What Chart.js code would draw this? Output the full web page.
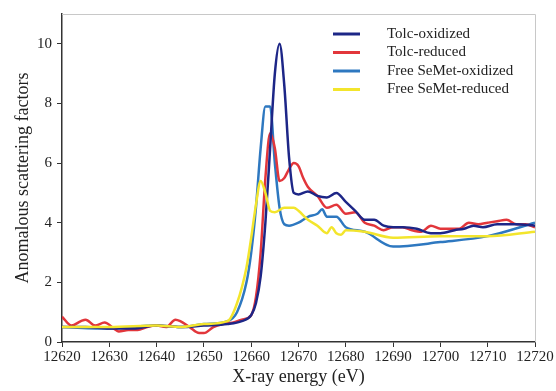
<!DOCTYPE html>
<html>
<head>
<meta charset="utf-8">
<script src="https://cdn.jsdelivr.net/npm/chart.js@4/dist/chart.umd.min.js"></script>
<style>
  body { margin: 0; background: #fff; }
  #wrap { width: 556px; height: 391px; }
</style>
</head>
<body>
<div id="wrap"><canvas id="xasChart"></canvas></div>
<script>
// energies (eV) and anomalous scattering factors
const toleOxE = [12620, 12625, 12630, 12635, 12640, 12645, 12650, 12655, 12658, 12660, 12661, 12662, 12663, 12664, 12665, 12666, 12667, 12668, 12669, 12670, 12672, 12674, 12676, 12678, 12680, 12682, 12684, 12686, 12688, 12690, 12692, 12695, 12698, 12700, 12703, 12705, 12707, 12709, 12712, 12716, 12720];
const toleOxY = [0.5, 0.5, 0.45, 0.45, 0.55, 0.5, 0.55, 0.6, 0.7, 0.9, 1.3, 2.2, 4.0, 6.5, 9.0, 10.0, 8.6, 6.2, 5.0, 4.95, 5.05, 4.9, 4.85, 5.0, 4.7, 4.4, 4.1, 4.1, 3.9, 3.85, 3.85, 3.8, 3.65, 3.65, 3.75, 3.8, 3.9, 3.85, 3.95, 3.95, 3.9];

const toleRedE = [12620, 12622, 12624, 12625, 12627, 12629, 12631, 12632, 12634, 12636, 12638, 12640, 12642, 12644, 12645, 12647, 12649, 12650, 12652, 12654, 12656, 12658, 12660, 12661, 12662, 12663, 12664, 12665, 12666, 12667, 12668, 12669, 12670, 12671, 12672, 12674, 12676, 12678, 12680, 12682, 12684, 12686, 12688, 12690, 12692, 12694, 12696, 12698, 12700, 12702, 12704, 12706, 12708, 12710, 12712, 12714, 12716, 12718, 12720];
const toleRedY = [0.85, 0.55, 0.7, 0.75, 0.55, 0.65, 0.45, 0.35, 0.4, 0.4, 0.5, 0.55, 0.5, 0.75, 0.7, 0.5, 0.3, 0.3, 0.5, 0.6, 0.65, 0.75, 0.9, 1.5, 3.0, 5.5, 7.0, 6.5, 5.4, 5.5, 5.8, 6.0, 5.9, 5.5, 5.2, 4.9, 4.5, 4.6, 4.3, 4.35, 4.0, 3.9, 3.75, 3.85, 3.85, 3.75, 3.7, 3.9, 3.8, 3.8, 3.8, 4.0, 3.95, 4.0, 4.05, 4.1, 3.95, 3.95, 3.85];

const semetOxE = [12620, 12630, 12640, 12645, 12650, 12655, 12657, 12659, 12660, 12661, 12662, 12663, 12664, 12665, 12666, 12667, 12668, 12670, 12672, 12674, 12675, 12676, 12678, 12680, 12684, 12690, 12700, 12710, 12720];
const semetOxY = [0.5, 0.45, 0.55, 0.5, 0.6, 0.7, 1.0, 2.0, 3.0, 4.5, 6.5, 7.9, 7.9, 6.0, 4.5, 3.95, 3.9, 4.0, 4.2, 4.3, 4.45, 4.2, 4.2, 3.85, 3.7, 3.2, 3.35, 3.55, 4.0];

const semetRedE = [12620, 12630, 12640, 12645, 12650, 12655, 12657, 12659, 12660, 12661, 12662, 12663, 12664, 12665, 12667, 12669, 12670, 12672, 12674, 12676, 12677, 12678, 12679, 12680, 12684, 12690, 12700, 12710, 12720];
const semetRedY = [0.5, 0.5, 0.55, 0.5, 0.6, 0.7, 1.3, 2.5, 3.5, 4.6, 5.4, 5.0, 4.4, 4.35, 4.5, 4.5, 4.4, 4.1, 3.9, 3.65, 3.85, 3.65, 3.6, 3.75, 3.7, 3.5, 3.55, 3.55, 3.7];

const seriesNames = ["Tolc-oxidized", "Tolc-reduced", "Free SeMet-oxidized", "Free SeMet-reduced"];
const seriesColors = ["#1d2687", "#e2363b", "#2e78c0", "#f3e52c"];
const xTicks = [12620, 12630, 12640, 12650, 12660, 12670, 12680, 12690, 12700, 12710, 12720];
const yTicks = [0, 2, 4, 6, 8, 10];

const pts = (xs, ys) => xs.map((x, i) => ({ x: x, y: ys[i] }));
const serif = "'Liberation Serif', 'DejaVu Serif', serif";

// legend sits inside the plot, top right, like the figure
const insideLegend = {
  id: "insideLegend",
  afterDraw(chart) {
    const c = chart.ctx;
    const a = chart.chartArea;
    c.save();
    c.strokeStyle = "#c8c8c8";
    c.lineWidth = 1;
    c.beginPath();
    c.moveTo(a.left, a.top + 0.5);
    c.lineTo(a.right + 0.5, a.top + 0.5);
    c.lineTo(a.right + 0.5, a.bottom);
    c.stroke();
    c.font = "15px " + serif;
    c.textBaseline = "middle";
    seriesNames.forEach((name, i) => {
      const y = 34 + i * 18.5;
      c.strokeStyle = seriesColors[i];
      c.lineWidth = 3;
      c.beginPath();
      c.moveTo(333, y);
      c.lineTo(360, y);
      c.stroke();
      c.fillStyle = "#222";
      c.fillText(name, 387, y);
    });
    c.restore();
  }
};

const datasets = [
  { label: seriesNames[0], data: pts(toleOxE, toleOxY), order: 1 },
  { label: seriesNames[1], data: pts(toleRedE, toleRedY), order: 2 },
  { label: seriesNames[2], data: pts(semetOxE, semetOxY), order: 3 },
  { label: seriesNames[3], data: pts(semetRedE, semetRedY), order: 0 }
].map((d, i) => Object.assign(d, {
  borderColor: seriesColors[i],
  backgroundColor: seriesColors[i],
  borderWidth: 2.5,
  pointRadius: 0,
  cubicInterpolationMode: "monotone",
  fill: false
}));

new Chart(document.getElementById("xasChart"), {
  type: "line",
  data: { datasets: datasets },
  options: {
    responsive: true,
    maintainAspectRatio: false,
    animation: false,
    layout: { padding: { top: 14, right: 21, left: 12, bottom: 3 } },
    plugins: { legend: { display: false }, tooltip: { enabled: false } },
    scales: {
      x: {
        type: "linear",
        min: 12620,
        max: 12720,
        afterBuildTicks: (s) => { s.ticks = xTicks.map(v => ({ value: v })); },
        afterFit: (s) => { s.height = 46; },
        grid: { display: true, drawOnChartArea: false, tickLength: 5, color: "#333" },
        border: { color: "#333", width: 1.5 },
        ticks: { color: "#222", font: { family: serif, size: 15 }, padding: 1, maxRotation: 0, autoSkip: false, callback: (v) => String(v) },
        title: { display: true, text: "X-ray energy (eV)", color: "#222", font: { family: serif, size: 18 }, padding: { top: 0, bottom: 0 } }
      },
      y: {
        min: 0,
        max: 11,
        afterBuildTicks: (s) => { s.ticks = yTicks.map(v => ({ value: v })); },
        afterFit: (s) => { s.width = 50; },
        grid: { display: true, drawOnChartArea: false, tickLength: 5, color: "#333" },
        border: { color: "#333", width: 1.5 },
        ticks: { color: "#222", font: { family: serif, size: 15 }, padding: 5, callback: (v) => String(v) },
        title: { display: true, text: "Anomalous scattering factors", color: "#222", font: { family: serif, size: 18 }, padding: { top: 0, bottom: 0 } }
      }
    }
  },
  plugins: [insideLegend]
});
</script>
</body>
</html>
